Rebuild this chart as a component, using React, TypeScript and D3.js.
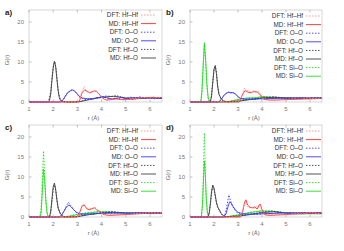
import * as d3 from 'd3';
import React from 'react';

type Pt = [number, number];

// x ticks / y ticks shared by all four panels
const xTicks = [1, 2, 3, 4, 5, 6];
const yTicks = [0, 5, 10, 15, 20];

// ---- panel a ----
const aHfHfDFT: Pt[] = [[1,0],[3.05,0],[3.1,0.8],[3.2,2.8],[3.28,3.9],[3.35,3.0],[3.45,2.2],[3.55,2.8],[3.65,2.4],[3.75,3.0],[3.85,2.2],[3.95,1.6],[4.05,0.9],[4.15,0.5],[4.3,0.4],[4.45,0.8],[4.6,0.6],[4.75,0.9],[4.9,0.5],[5.1,0.7],[5.3,0.9],[5.5,0.8],[5.7,1.2],[5.9,1.0],[6.1,1.3],[6.3,1.1],[6.5,1.2]];
const aHfHfMD: Pt[] = [[1,0],[3.05,0],[3.1,0.5],[3.15,1.5],[3.2,2.4],[3.3,3.0],[3.4,2.7],[3.5,2.3],[3.6,2.5],[3.7,2.8],[3.8,2.6],[3.9,2.0],[4.0,1.2],[4.1,0.7],[4.2,0.5],[4.4,0.6],[4.6,0.8],[4.8,0.6],[5.0,0.6],[5.3,0.8],[5.6,1.0],[6.0,1.1],[6.5,1.1]];
const aOODFT: Pt[] = [[1,0],[2.3,0],[2.4,0.4],[2.5,1.3],[2.6,2.5],[2.7,2.6],[2.78,3.2],[2.88,2.6],[2.98,2.1],[3.08,1.2],[3.2,0.9],[3.35,0.6],[3.5,0.9],[3.65,0.7],[3.8,1.1],[3.95,1.0],[4.1,1.3],[4.25,0.9],[4.4,0.7],[4.55,1.0],[4.7,0.8],[4.85,1.2],[5.0,0.9],[5.2,1.2],[5.4,1.0],[5.6,1.3],[5.8,0.9],[6.0,1.1],[6.2,0.8],[6.4,1.0],[6.5,0.9]];
const aOOMD: Pt[] = [[1,0],[2.3,0],[2.4,0.5],[2.5,1.5],[2.6,2.3],[2.7,2.8],[2.8,3.0],[2.9,2.7],[3.0,2.0],[3.1,1.3],[3.2,1.0],[3.4,0.8],[3.6,0.8],[3.8,1.0],[4.0,1.2],[4.2,1.1],[4.4,0.8],[4.6,0.9],[4.8,1.1],[5.0,1.0],[5.4,1.1],[5.8,1.0],[6.2,1.0],[6.5,0.9]];
const aHfODFT: Pt[] = [[1,0],[1.78,0],[1.84,0.8],[1.9,2.8],[1.96,6.5],[2.02,9.5],[2.07,10.0],[2.12,8.2],[2.18,4.5],[2.23,2.0],[2.3,0.6],[2.4,0.1],[2.6,0],[3.0,0.1],[3.2,0.3],[3.5,0.7],[3.8,1.0],[4.0,1.3],[4.2,1.5],[4.4,1.4],[4.6,1.6],[4.8,1.3],[5.0,0.9],[5.3,0.7],[5.6,0.9],[6.0,1.1],[6.5,1.0]];
const aHfOMD: Pt[] = [[1,0],[1.8,0],[1.85,0.5],[1.9,2.0],[1.95,5.5],[2.0,8.5],[2.05,10.2],[2.1,9.0],[2.15,6.0],[2.2,3.0],[2.25,1.2],[2.3,0.4],[2.4,0.1],[2.6,0],[3.0,0],[3.2,0.2],[3.5,0.6],[3.8,1.0],[4.0,1.2],[4.2,1.3],[4.5,1.4],[4.7,1.3],[5.0,0.9],[5.3,0.8],[5.6,0.9],[6.0,1.0],[6.5,1.0]];

// ---- panel b ----
const bHfHfDFT: Pt[] = [[1,0],[3.05,0],[3.12,1.0],[3.2,2.4],[3.27,3.5],[3.35,2.6],[3.45,3.0],[3.55,2.2],[3.65,2.9],[3.75,2.3],[3.85,2.7],[3.95,1.7],[4.05,0.8],[4.2,0.4],[4.4,0.6],[4.6,0.4],[4.8,0.7],[5.0,0.5],[5.3,0.8],[5.6,0.6],[5.9,1.1],[6.2,0.8],[6.5,1.0]];
const bHfHfMD: Pt[] = [[1,0],[3.05,0],[3.1,0.6],[3.2,2.0],[3.3,2.9],[3.4,2.5],[3.5,2.3],[3.6,2.5],[3.7,2.6],[3.8,2.5],[3.9,2.0],[4.0,1.2],[4.1,0.7],[4.3,0.5],[4.6,0.5],[5.0,0.6],[5.5,0.7],[6.0,0.8],[6.5,0.9]];
const bOODFT: Pt[] = [[1,0],[2.2,0],[2.3,0.6],[2.4,1.6],[2.5,2.0],[2.6,2.5],[2.7,2.2],[2.8,2.4],[2.9,1.8],[3.0,1.2],[3.1,0.8],[3.3,0.6],[3.5,0.8],[3.7,0.6],[3.9,0.9],[4.1,0.7],[4.3,1.0],[4.5,0.8],[4.7,1.0],[4.9,0.9],[5.1,1.1],[5.4,0.9],[5.7,1.1],[6.0,0.9],[6.3,1.0],[6.5,1.0]];
const bOOMD: Pt[] = [[1,0],[2.2,0],[2.3,0.7],[2.4,1.5],[2.5,2.2],[2.6,2.4],[2.7,2.4],[2.8,2.3],[2.9,2.0],[3.0,1.4],[3.1,0.9],[3.3,0.7],[3.6,0.7],[4.0,0.8],[4.5,0.9],[5.0,1.0],[5.5,1.0],[6.0,1.0],[6.5,1.0]];
const bHfODFT: Pt[] = [[1,0],[1.83,0],[1.88,1.2],[1.94,4.5],[2.0,8.0],[2.05,9.2],[2.1,7.5],[2.16,3.8],[2.22,1.8],[2.3,0.7],[2.4,0.2],[2.6,0],[3.0,0.2],[3.5,0.7],[4.0,1.1],[4.5,1.3],[5.0,1.0],[5.5,0.9],[6.0,1.0],[6.5,1.0]];
const bHfOMD: Pt[] = [[1,0],[1.85,0],[1.9,1.5],[1.95,5.0],[2.0,8.2],[2.05,9.0],[2.1,7.2],[2.15,4.0],[2.2,2.0],[2.3,0.8],[2.4,0.3],[2.5,0.1],[3.0,0.2],[3.5,0.6],[4.0,1.0],[4.5,1.2],[5.0,1.0],[5.5,1.0],[6.0,1.0],[6.5,1.0]];
const bSiODFT: Pt[] = [[1,0],[1.45,0],[1.5,2.5],[1.55,9.5],[1.6,15.0],[1.65,10.0],[1.7,4.0],[1.75,1.0],[1.8,0.1],[1.9,0],[2.4,0],[2.6,0.1],[2.8,0.4],[3.0,0.7],[3.2,0.8],[3.5,1.1],[3.8,1.0],[4.0,1.5],[4.2,1.2],[4.5,1.2],[5.0,0.8],[5.5,1.0],[6.0,0.8],[6.5,0.9]];
const bSiOMD: Pt[] = [[1,0],[1.45,0],[1.5,3.0],[1.55,9.0],[1.6,14.5],[1.65,11.0],[1.7,5.0],[1.75,1.5],[1.8,0.2],[1.9,0],[2.4,0],[2.6,0.1],[2.8,0.3],[3.0,0.6],[3.2,0.9],[3.5,1.0],[3.8,1.1],[4.0,1.4],[4.2,1.3],[4.5,1.1],[5.0,0.9],[5.5,0.9],[6.0,0.9],[6.5,0.9]];

// ---- panel c ----
const cHfHfDFT: Pt[] = [[1,0],[3.0,0],[3.1,1.0],[3.18,2.4],[3.25,3.3],[3.33,2.6],[3.42,2.0],[3.52,2.2],[3.62,1.9],[3.72,2.5],[3.82,1.7],[3.92,1.4],[4.02,0.9],[4.15,0.5],[4.3,0.5],[4.5,0.7],[4.7,0.5],[4.9,0.8],[5.1,0.6],[5.4,0.9],[5.7,0.8],[6.0,1.1],[6.3,0.9],[6.5,1.1]];
const cHfHfMD: Pt[] = [[1,0],[3.0,0],[3.1,1.2],[3.2,2.8],[3.3,2.9],[3.4,2.0],[3.5,1.8],[3.6,2.1],[3.7,2.3],[3.8,1.8],[3.9,1.5],[4.0,1.0],[4.1,0.6],[4.3,0.4],[4.6,0.5],[5.0,0.6],[5.5,0.8],[6.0,1.0],[6.5,1.0]];
const cOODFT: Pt[] = [[1,0],[2.25,0],[2.35,0.4],[2.45,1.5],[2.55,2.8],[2.63,3.7],[2.72,2.9],[2.82,2.0],[2.92,1.3],[3.05,0.9],[3.2,0.6],[3.4,0.8],[3.6,0.6],[3.8,0.9],[4.0,0.8],[4.2,1.0],[4.5,0.9],[4.8,1.1],[5.1,0.9],[5.4,1.1],[5.8,0.9],[6.2,1.0],[6.5,1.0]];
const cOOMD: Pt[] = [[1,0],[2.25,0],[2.35,0.5],[2.45,1.5],[2.55,2.5],[2.65,3.0],[2.75,2.5],[2.85,1.8],[2.95,1.2],[3.1,0.8],[3.3,0.7],[3.6,0.8],[4.0,0.9],[4.5,1.0],[5.0,1.0],[5.5,1.0],[6.0,1.0],[6.5,1.0]];
const cHfODFT: Pt[] = [[1,0],[1.85,0],[1.9,1.2],[1.96,4.5],[2.01,7.2],[2.06,8.0],[2.11,6.5],[2.16,4.0],[2.22,2.0],[2.3,0.7],[2.4,0.2],[2.5,0],[3.0,0.1],[3.5,0.7],[4.0,1.1],[4.4,1.4],[4.8,1.1],[5.2,0.9],[5.6,1.0],[6.0,1.1],[6.5,1.0]];
const cHfOMD: Pt[] = [[1,0],[1.85,0],[1.9,1.5],[1.95,4.5],[2.0,7.5],[2.05,8.5],[2.1,7.0],[2.15,4.5],[2.2,2.3],[2.3,0.8],[2.4,0.2],[2.5,0],[3.0,0.1],[3.5,0.6],[4.0,1.0],[4.5,1.2],[5.0,1.0],[5.5,1.0],[6.0,1.0],[6.5,1.0]];
const cSiODFT: Pt[] = [[1,0],[1.45,0],[1.5,2.0],[1.55,9.0],[1.6,16.5],[1.65,10.0],[1.7,3.5],[1.75,0.8],[1.8,0],[2.4,0],[2.7,0.3],[3.0,0.7],[3.3,1.0],[3.6,1.2],[3.9,1.4],[4.2,1.2],[4.5,1.2],[5.0,0.8],[5.5,1.0],[6.0,0.8],[6.5,0.9]];
const cSiOMD: Pt[] = [[1,0],[1.45,0],[1.5,1.0],[1.55,6.0],[1.6,12.0],[1.65,9.0],[1.7,4.0],[1.75,1.0],[1.8,0],[2.4,0],[2.7,0.2],[3.0,0.6],[3.3,0.9],[3.6,1.1],[3.9,1.3],[4.2,1.3],[4.5,1.1],[5.0,0.9],[5.5,0.9],[6.0,0.9],[6.5,0.9]];

// ---- panel d ----
const dHfHfDFT: Pt[] = [[1,0],[3.1,0],[3.2,1.8],[3.28,3.9],[3.35,3.2],[3.45,2.2],[3.55,2.6],[3.65,2.0],[3.75,2.7],[3.85,2.3],[3.92,2.9],[4.0,1.5],[4.1,0.5],[4.3,0.5],[4.5,0.8],[4.7,0.5],[4.9,0.9],[5.1,0.6],[5.4,1.0],[5.7,0.7],[6.0,1.2],[6.3,0.8],[6.5,1.0]];
const dHfHfMD: Pt[] = [[1,0],[3.1,0],[3.2,1.5],[3.27,3.5],[3.33,4.3],[3.4,3.0],[3.5,2.4],[3.6,2.3],[3.7,2.5],[3.8,2.0],[3.88,3.0],[3.93,3.2],[4.0,1.8],[4.1,0.6],[4.3,0.4],[4.6,0.5],[5.0,0.6],[5.5,0.8],[6.0,0.9],[6.5,1.0]];
const dOODFT: Pt[] = [[1,0],[2.4,0],[2.48,1.0],[2.55,3.2],[2.62,5.5],[2.68,4.2],[2.76,2.8],[2.86,1.8],[2.96,1.1],[3.1,0.7],[3.3,0.6],[3.5,0.8],[3.8,0.6],[4.1,0.9],[4.4,0.8],[4.7,1.1],[5.0,0.9],[5.3,1.1],[5.7,0.9],[6.1,1.0],[6.5,1.0]];
const dOOMD: Pt[] = [[1,0],[2.4,0],[2.5,0.8],[2.58,2.5],[2.65,3.8],[2.7,3.6],[2.8,2.6],[2.9,1.7],[3.0,1.2],[3.2,0.8],[3.5,0.7],[4.0,0.8],[4.5,0.9],[5.0,1.0],[5.5,1.0],[6.0,1.0],[6.5,1.0]];
const dHfODFT: Pt[] = [[1,0],[1.75,0],[1.8,0.8],[1.85,3.0],[1.9,6.0],[1.95,7.6],[2.0,7.0],[2.05,5.2],[2.1,3.5],[2.15,2.4],[2.2,1.9],[2.25,1.3],[2.3,0.7],[2.4,0.2],[2.5,0.1],[3.0,0.2],[3.5,0.7],[4.0,1.2],[4.4,1.5],[4.8,1.2],[5.2,0.9],[5.6,1.0],[6.0,1.1],[6.5,1.0]];
const dHfOMD: Pt[] = [[1,0],[1.75,0],[1.8,1.0],[1.85,3.5],[1.9,6.5],[1.95,8.0],[2.0,7.2],[2.05,5.5],[2.1,3.8],[2.15,2.6],[2.2,2.0],[2.25,1.5],[2.3,0.9],[2.4,0.3],[2.5,0.1],[3.0,0.2],[3.5,0.6],[4.0,1.1],[4.5,1.3],[5.0,1.0],[5.5,1.0],[6.0,1.0],[6.5,1.0]];
const dSiODFT: Pt[] = [[1,0],[1.48,0],[1.53,4.0],[1.57,14.0],[1.6,21.0],[1.63,14.0],[1.67,5.0],[1.72,0.8],[1.78,0],[2.5,0],[3.0,0.5],[3.5,1.2],[4.0,1.6],[4.5,1.4],[5.0,1.0],[5.5,0.8],[6.0,0.9],[6.5,0.8]];
const dSiOMD: Pt[] = [[1,0],[1.47,0],[1.52,3.0],[1.56,9.0],[1.6,14.0],[1.64,10.0],[1.68,4.5],[1.73,1.0],[1.8,0],[2.5,0],[3.0,0.5],[3.5,1.1],[4.0,1.5],[4.5,1.4],[5.0,1.0],[5.5,0.8],[6.0,0.8],[6.5,0.8]];

const RED = '#ff2a2a';
const RED_DFT = '#ff8c8c';
const BLUE = '#3a3aff';
const BLACK = '#404040';
const GREEN = '#22dd22';

interface Series { label: string; data: Pt[]; color: string; dash: boolean }

const mk = (hfhf: Pt[][], oo: Pt[][], hfo: Pt[][], sio?: Pt[][]): Series[] => {
  const s: Series[] = [
    { label: 'DFT: Hf–Hf', data: hfhf[0], color: RED_DFT, dash: true },
    { label: 'MD: Hf–Hf', data: hfhf[1], color: RED, dash: false },
    { label: 'DFT: O–O', data: oo[0], color: BLUE, dash: true },
    { label: 'MD: O–O', data: oo[1], color: BLUE, dash: false },
    { label: 'DFT: Hf–O', data: hfo[0], color: BLACK, dash: true },
    { label: 'MD: Hf–O', data: hfo[1], color: BLACK, dash: false },
  ];
  if (sio) {
    s.push({ label: 'DFT: Si–O', data: sio[0], color: GREEN, dash: true });
    s.push({ label: 'MD: Si–O', data: sio[1], color: GREEN, dash: false });
  }
  return s;
};

const panels = [
  { tag: 'a)', left: 29, right: 162, bottom: 102, legX: 138, legY: 15,
    series: mk([aHfHfDFT, aHfHfMD], [aOODFT, aOOMD], [aHfODFT, aHfOMD]) },
  { tag: 'b)', left: 190, right: 322, bottom: 102, legX: 303, legY: 16,
    series: mk([bHfHfDFT, bHfHfMD], [bOODFT, bOOMD], [bHfODFT, bHfOMD], [bSiODFT, bSiOMD]) },
  { tag: 'c)', left: 29, right: 162, bottom: 217, legX: 138, legY: 131,
    series: mk([cHfHfDFT, cHfHfMD], [cOODFT, cOOMD], [cHfODFT, cHfOMD], [cSiODFT, cSiOMD]) },
  { tag: 'd)', left: 190, right: 322, bottom: 217, legX: 303, legY: 131,
    series: mk([dHfHfDFT, dHfHfMD], [dOODFT, dOOMD], [dHfODFT, dHfOMD], [dSiODFT, dSiOMD]) },
];

const FONT = '"Liberation Sans", Arial, sans-serif';

const Panel = ({ p }: { p: typeof panels[number] }) => {
  const x = d3.scaleLinear().domain([1, 6.5]).range([p.left, p.right]);
  const y = d3.scaleLinear().domain([0, 23]).range([p.bottom, p.bottom - 92]);
  const line = d3.line<Pt>().x(d => x(d[0])).y(d => y(d[1]));
  const top = y(23);
  // draw solid (MD) after dashed so order follows legend
  const order = [...p.series].reverse();
  return (
    <g>
      <text x={p.left - 24} y={top + 5} fontSize={8} fontWeight="bold" fill="#222">{p.tag}</text>
      <rect x={p.left} y={top} width={p.right - p.left} height={p.bottom - top}
        fill="none" stroke="#bbb" strokeWidth={0.6} />
      {yTicks.map(t => (
        <g key={'y' + t}>
          <line x1={p.left} x2={p.left + 2.5} y1={y(t)} y2={y(t)} stroke="#999" strokeWidth={0.6} />
          <text x={p.left - 5} y={y(t) + 2.2} fontSize={6} textAnchor="end" fill="#777">{t}</text>
        </g>
      ))}
      {xTicks.map(t => (
        <g key={'x' + t}>
          <line x1={x(t)} x2={x(t)} y1={p.bottom} y2={p.bottom - 2.5} stroke="#999" strokeWidth={0.6} />
          <line x1={x(t)} x2={x(t)} y1={top} y2={top + 2.5} stroke="#999" strokeWidth={0.6} />
          <text x={x(t)} y={p.bottom + 9} fontSize={6} textAnchor="middle" fill="#777">{t}</text>
        </g>
      ))}
      <text x={(p.left + p.right) / 2 - 2} y={p.bottom + 18} fontSize={6} textAnchor="middle" fill="#666">r (Å)</text>
      <text transform={`translate(${p.left - 20},${(top + p.bottom) / 2 + 4}) rotate(-90)`}
        fontSize={6} textAnchor="middle" fill="#666">G(r)</text>
      {order.map(s => (
        <path key={s.label} d={line(s.data) || ''} fill="none" stroke={s.color}
          strokeWidth={0.9} strokeDasharray={s.dash ? '1.5,1.5' : undefined} />
      ))}
      {p.series.map((s, i) => {
        const ly = p.legY + i * 8.6;
        return (
          <g key={'l' + s.label}>
            <text x={p.legX} y={ly + 2.2} fontSize={6.3} textAnchor="end" fill="#333">{s.label}</text>
            <line x1={p.legX + 3} x2={p.legX + 18} y1={ly} y2={ly} stroke={s.color}
              strokeWidth={0.9} strokeDasharray={s.dash ? '1.5,1.5' : undefined} />
          </g>
        );
      })}
    </g>
  );
};

export default function App() {
  return (
    <svg width={344} height={251} style={{ position: 'absolute', left: 0, top: 0, background: '#fff' }}
      fontFamily={FONT}>
      {panels.map(p => <Panel key={p.tag} p={p} />)}
    </svg>
  );
}
